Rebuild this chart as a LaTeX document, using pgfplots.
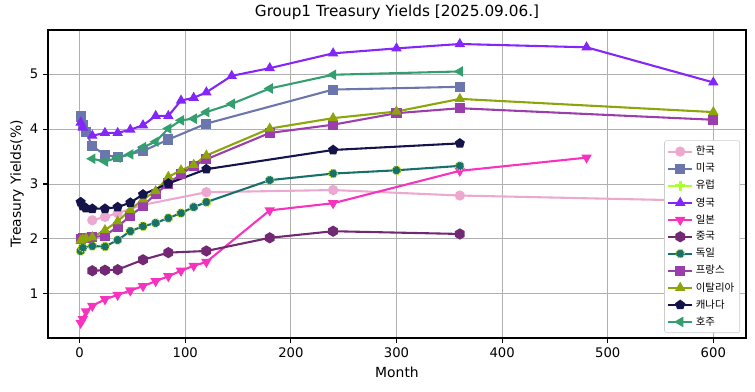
\documentclass[border=0pt]{standalone}
\usepackage{pgfplots}
\pgfplotsset{compat=1.18}
\usepackage{fontspec}
\setmainfont{DejaVu Sans}
\newfontfamily\kr{Noto Sans CJK KR}

\definecolor{cKR}{RGB}{236,168,206}
\definecolor{cUS}{RGB}{107,118,173}
\definecolor{cEU}{RGB}{173,255,47}
\definecolor{cUK}{RGB}{132,38,248}
\definecolor{cJP}{RGB}{246,50,190}
\definecolor{cCN}{RGB}{115,40,115}
\definecolor{cDE}{RGB}{24,112,106}
\definecolor{cDEe}{RGB}{200,230,40}
\definecolor{cFR}{RGB}{155,61,171}
\definecolor{cIT}{RGB}{140,165,10}
\definecolor{cCA}{RGB}{20,19,74}
\definecolor{cAU}{RGB}{51,158,110}
\definecolor{gridgray}{RGB}{176,176,176}

\pgfdeclareplotmark{hexagon*}{%
  \pgfpathmoveto{\pgfpointpolar{90}{1.1\pgfplotmarksize}}%
  \pgfpathlineto{\pgfpointpolar{150}{1.1\pgfplotmarksize}}%
  \pgfpathlineto{\pgfpointpolar{210}{1.1\pgfplotmarksize}}%
  \pgfpathlineto{\pgfpointpolar{270}{1.1\pgfplotmarksize}}%
  \pgfpathlineto{\pgfpointpolar{330}{1.1\pgfplotmarksize}}%
  \pgfpathlineto{\pgfpointpolar{30}{1.1\pgfplotmarksize}}%
  \pgfpathclose\pgfusepathqfillstroke}
\pgfdeclareplotmark{octagon*}{%
  \pgfpathmoveto{\pgfpointpolar{22.5}{1.1\pgfplotmarksize}}%
  \pgfpathlineto{\pgfpointpolar{67.5}{1.1\pgfplotmarksize}}%
  \pgfpathlineto{\pgfpointpolar{112.5}{1.1\pgfplotmarksize}}%
  \pgfpathlineto{\pgfpointpolar{157.5}{1.1\pgfplotmarksize}}%
  \pgfpathlineto{\pgfpointpolar{202.5}{1.1\pgfplotmarksize}}%
  \pgfpathlineto{\pgfpointpolar{247.5}{1.1\pgfplotmarksize}}%
  \pgfpathlineto{\pgfpointpolar{292.5}{1.1\pgfplotmarksize}}%
  \pgfpathlineto{\pgfpointpolar{337.5}{1.1\pgfplotmarksize}}%
  \pgfpathclose\pgfusepathqfillstroke}

\begin{document}
\begin{tikzpicture}
\useasboundingbox (-34.56pt,-38.16pt) rectangle (509.04pt,243.36pt);
\begin{axis}[
  at={(0,0)}, anchor=south west,
  scale only axis, width=502.56pt, height=221.76pt,
  xmin=-29.95, xmax=630.95, ymin=0.195, ymax=5.805,
  xtick={0,100,...,600}, ytick={1,2,3,4,5},
  tick align=outside, tick pos=left,
  major tick length=3.5pt,
  grid=major, grid style={gridgray, line width=0.6pt},
  axis line style={line width=0.8pt},
  tick style={black, line width=0.8pt},
  ticklabel style={font=\fontsize{9.5}{11}\selectfont},
  /pgf/number format/assume math mode=true,
  title={Group1 Treasury Yields [2025.09.06.]},
  title style={font=\fontsize{11}{13}\selectfont, yshift=-2pt},
  xlabel={Month}, ylabel={Treasury Yields(\%)},
  label style={font=\fontsize{10}{12}\selectfont},
  ylabel style={yshift=-2.5pt},
  every axis plot/.append style={line width=1.5pt, mark size=2.9pt, mark options={solid}},
  legend cell align=left,
  legend style={at={(1,0)}, anchor=south east, xshift=-4.3pt, yshift=3.6pt,
    draw=gray!40, rounded corners=1.5pt, font=\kr\fontsize{7.5}{9}\selectfont,
    row sep=0.6pt, inner sep=2pt},
  legend image code/.code={\draw[mark repeat=2,mark phase=2] plot coordinates {(0cm,0cm) (0.3cm,0cm) (0.6cm,0cm)};},
]
\addplot[color=cKR, mark=*, mark options={fill=cKR, draw=cKR}] coordinates {
(12,2.34)(24,2.40)(36,2.47)(60,2.62)(120,2.85)(240,2.89)(360,2.79)(600,2.69)};
\addlegendentry{한국}
\addplot[color=cUS, mark=square*, mark options={fill=cUS, draw=cUS}] coordinates {
(1,4.23)(3,4.08)(6,3.95)(12,3.69)(24,3.53)(36,3.49)(60,3.60)(84,3.81)(120,4.10)(240,4.72)(360,4.77)};
\addlegendentry{미국}
\addlegendimage{color=cEU, line width=1.5pt, mark=+, mark size=3.5pt, mark options={line width=2pt}}
\addlegendentry{유럽}
\addplot[color=cUK, mark=triangle*, mark options={fill=cUK, draw=cUK}] coordinates {
(1,4.12)(3,4.03)(12,3.88)(24,3.93)(36,3.93)(48,3.99)(60,4.07)(72,4.24)(84,4.24)(96,4.52)(108,4.57)(120,4.67)(144,4.97)(180,5.11)(240,5.38)(300,5.47)(360,5.55)(480,5.49)(600,4.85)};
\addlegendentry{영국}
\addplot[color=cJP, mark=triangle*, mark options={fill=cJP, draw=cJP, rotate=180}] coordinates {
(1,0.47)(3,0.54)(6,0.68)(12,0.78)(24,0.90)(36,0.98)(48,1.06)(60,1.14)(72,1.23)(84,1.32)(96,1.42)(108,1.51)(120,1.58)(180,2.52)(240,2.65)(360,3.24)(480,3.48)};
\addlegendentry{일본}
\addplot[color=cCN, mark=hexagon*, mark options={fill=cCN, draw=cCN}] coordinates {
(12,1.42)(24,1.43)(36,1.44)(60,1.62)(84,1.75)(120,1.78)(180,2.02)(240,2.14)(360,2.09)};
\addlegendentry{중국}
\addplot[color=cDE, mark=octagon*, mark options={fill=cDE, draw=cDEe, line width=0.8pt, densely dotted}] coordinates {
(1,1.78)(3,1.84)(12,1.87)(24,1.86)(36,1.98)(48,2.14)(60,2.23)(72,2.29)(84,2.38)(96,2.47)(108,2.58)(120,2.67)(180,3.07)(240,3.19)(300,3.25)(360,3.33)};
\addlegendentry{독일}
\addplot[color=cFR, mark=square*, mark options={fill=cFR, draw=cFR}] coordinates {
(1,2.00)(3,2.01)(6,2.02)(12,2.03)(24,2.06)(36,2.22)(48,2.42)(60,2.60)(72,2.82)(84,3.01)(96,3.18)(108,3.33)(120,3.45)(180,3.93)(240,4.08)(300,4.29)(360,4.38)(600,4.17)};
\addlegendentry{프랑스}
\addplot[color=cIT, mark=triangle*, mark options={fill=cIT, draw=cIT}] coordinates {
(1,1.97)(3,1.99)(6,2.01)(12,2.03)(24,2.16)(36,2.32)(48,2.53)(60,2.72)(72,2.87)(84,3.13)(96,3.25)(108,3.35)(120,3.52)(180,4.01)(240,4.20)(300,4.32)(360,4.55)(600,4.31)};
\addlegendentry{이탈리아}
\addplot[color=cCA, mark=pentagon*, mark options={fill=cCA, draw=cCA}] coordinates {
(1,2.67)(3,2.60)(6,2.56)(12,2.55)(24,2.55)(36,2.58)(48,2.66)(60,2.81)(84,3.01)(120,3.27)(240,3.62)(360,3.74)};
\addlegendentry{캐나다}
\addplot[color=cAU, mark=triangle*, mark options={fill=cAU, draw=cAU, rotate=90}] coordinates {
(12,3.46)(24,3.41)(36,3.48)(48,3.54)(60,3.67)(72,3.77)(84,4.01)(96,4.16)(108,4.19)(120,4.31)(144,4.46)(180,4.74)(240,4.99)(360,5.05)};
\addlegendentry{호주}
\end{axis}
\end{tikzpicture}
\end{document}
